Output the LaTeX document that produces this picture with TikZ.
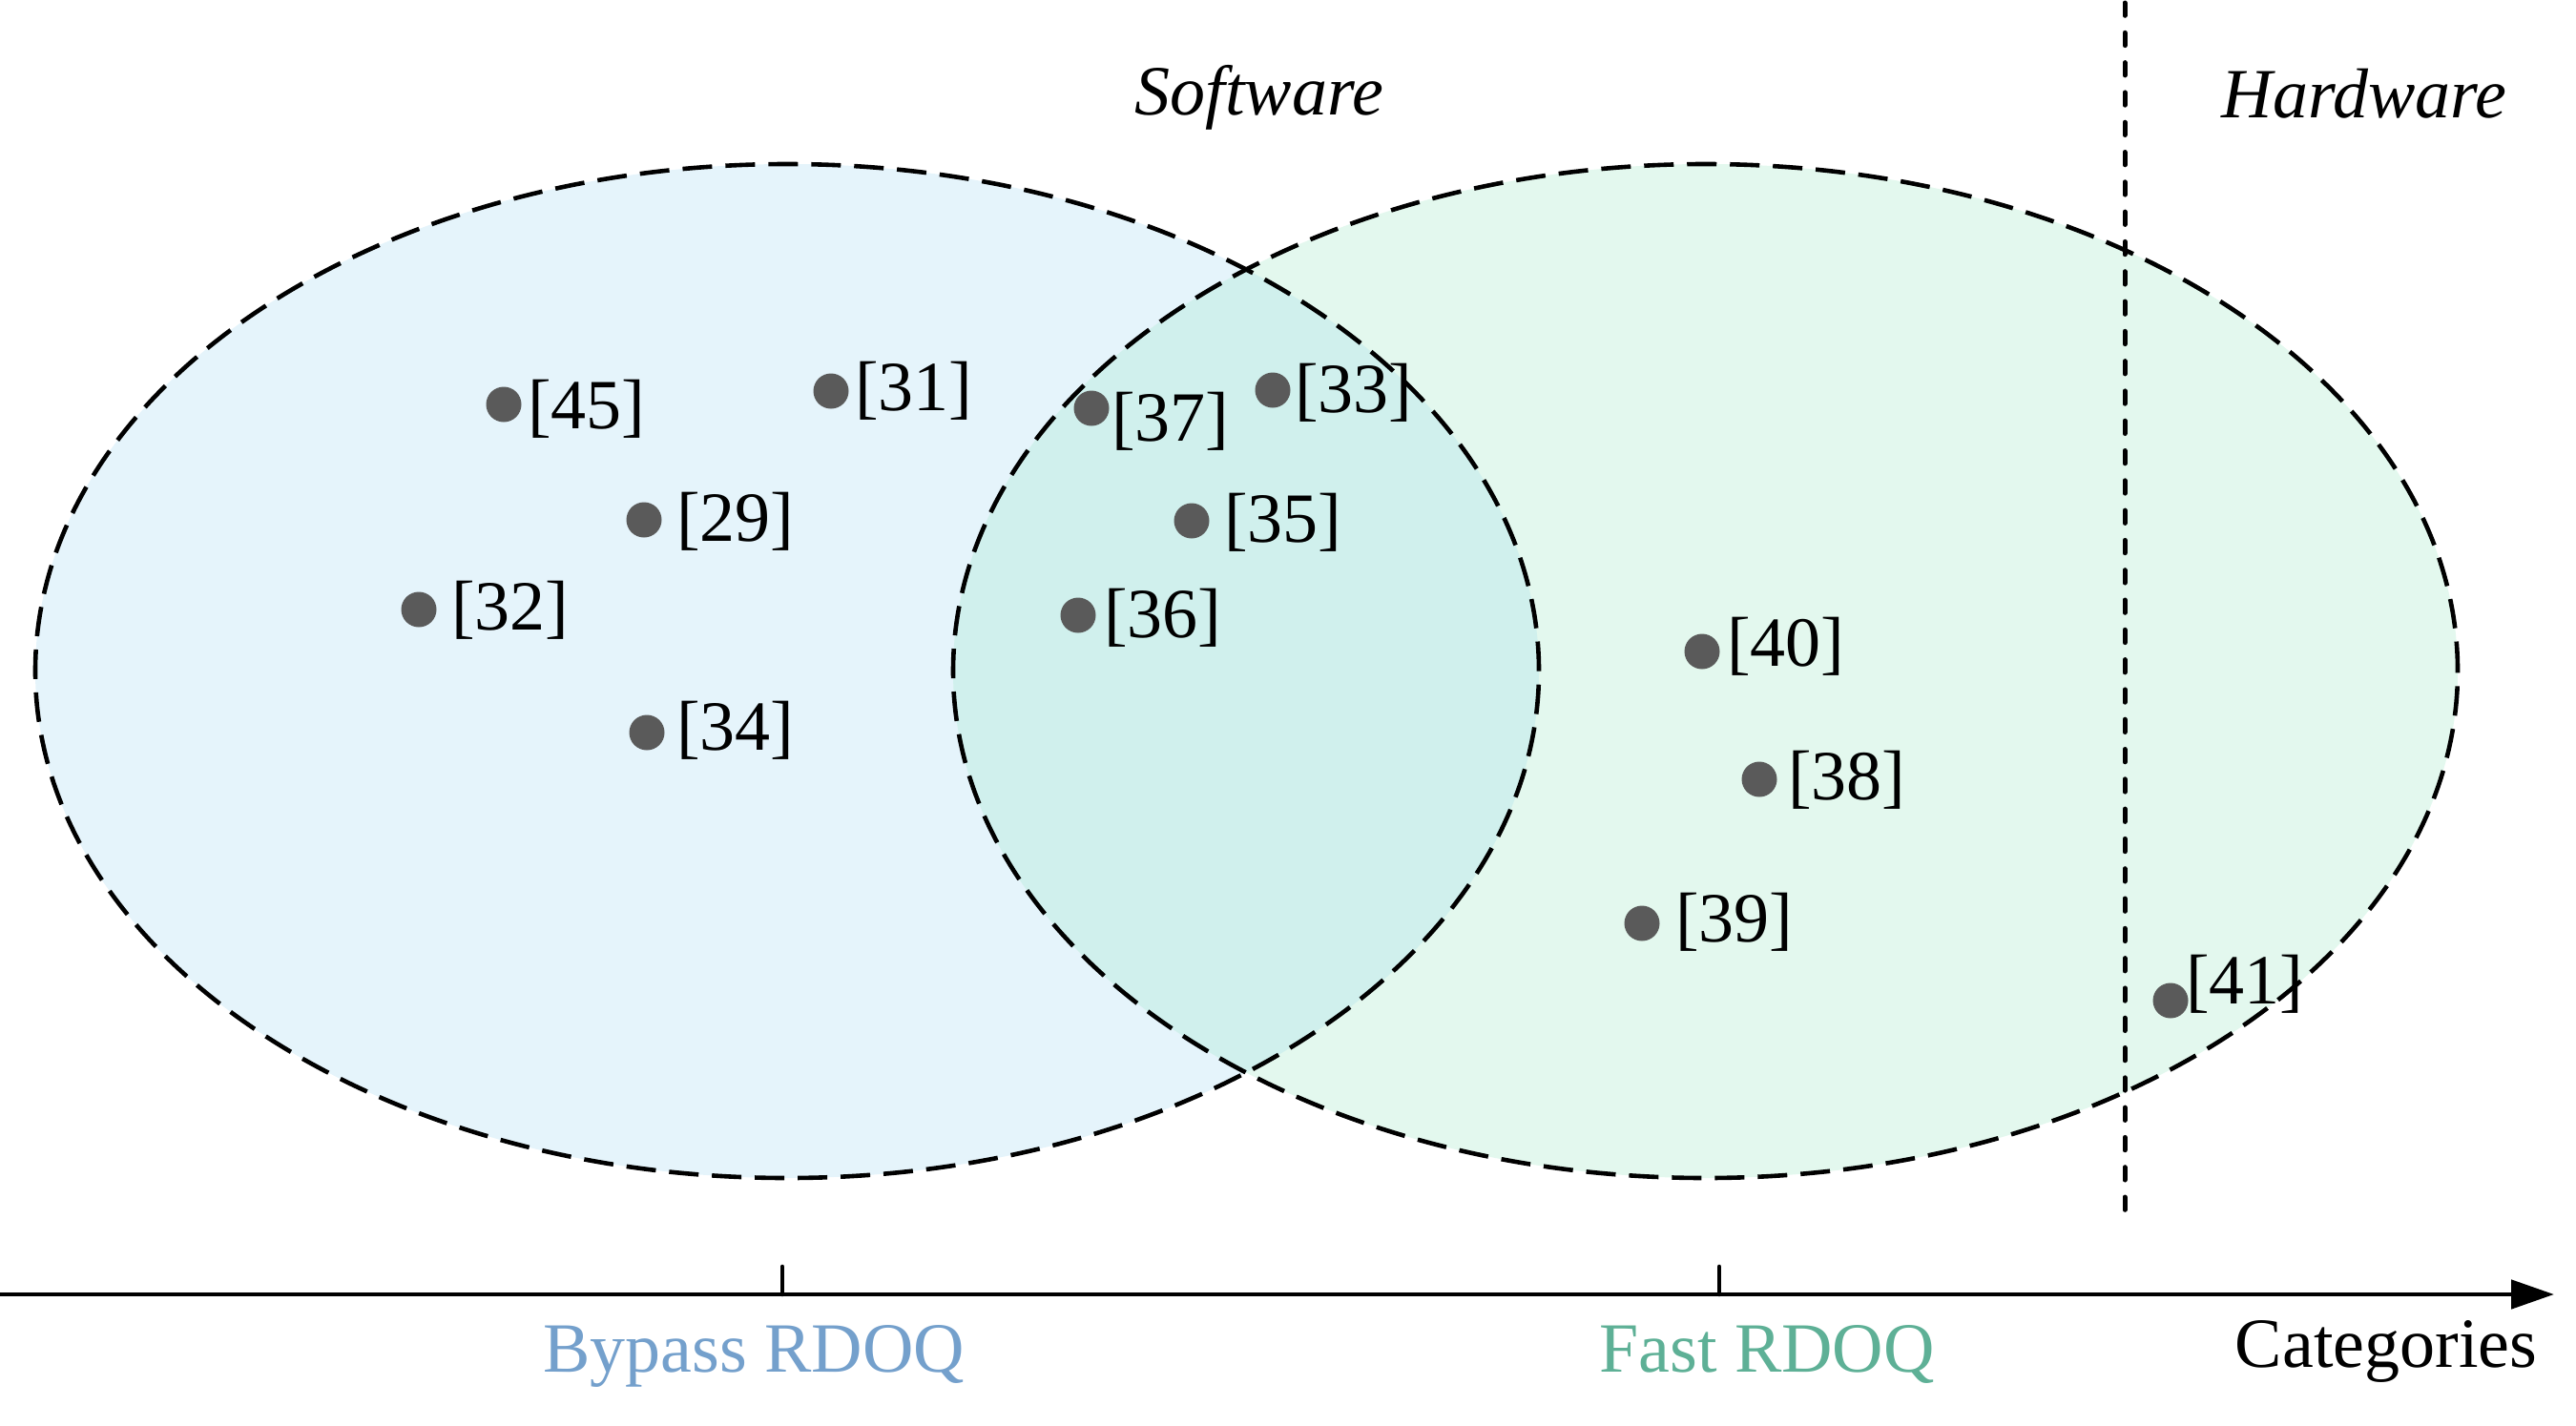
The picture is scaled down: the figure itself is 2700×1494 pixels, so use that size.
\documentclass[tikz,border=0pt]{standalone}
\usepackage{fontspec}
\setmainfont{Liberation Serif}
\usetikzlibrary{arrows.meta}
\definecolor{leftfill}{HTML}{E5F4FB}
\definecolor{rightfill}{HTML}{E3F8EE}
\definecolor{bothfill}{HTML}{D0F0ED}
\definecolor{dotgray}{HTML}{5A5A5A}
\definecolor{bypasscol}{HTML}{74A0CC}
\definecolor{fastcol}{HTML}{5EB096}
\begin{document}
\begin{tikzpicture}[x=1pt,y=-1pt,
  refdot/.style={circle,fill=dotgray,inner sep=0pt,minimum size=37pt},
  reflabel/.style={anchor=base west,inner sep=0pt,font=\fontsize{74}{88}\selectfont},
  bigtext/.style={anchor=base,inner sep=0pt,font=\fontsize{74}{88}\selectfont},
  setline/.style={draw=black,line width=4.6pt,dash pattern=on 31pt off 14pt},
  divline/.style={draw=black,line width=5pt,line cap=round,dash pattern=on 13.3pt off 18pt},
  axisline/.style={draw=black,line width=4.8pt},
  tickline/.style={draw=black,line width=4.6pt,line cap=round}]
\useasboundingbox (0,0) rectangle (2700,1494);
% ellipse fills
\fill[leftfill] (825,703.5) ellipse [x radius=788pt, y radius=531.5pt];
\fill[rightfill] (1787.5,703.5) ellipse [x radius=788.5pt, y radius=531.5pt];
\begin{scope}
  \clip (825,703.5) ellipse [x radius=788pt, y radius=531.5pt];
  \fill[bothfill] (1787.5,703.5) ellipse [x radius=788.5pt, y radius=531.5pt];
\end{scope}
% outlines
\draw[setline] (825,703.5) ellipse [x radius=788pt, y radius=531.5pt];
\draw[setline] (1787.5,703.5) ellipse [x radius=788.5pt, y radius=531.5pt];
% divider
\coordinate (v0) at (2227,3);
\coordinate (v1) at (2227,1270);
\draw[divline] (v0) -- (v1);
% dots and labels
\node[refdot] (d45) at (528,424) {};
\node[reflabel] (l45) at (553,449) {[45]};
\node[refdot] (d31) at (871,410) {};
\node[reflabel] (l31) at (896,430) {[31]};
\node[refdot] (d29) at (675,545) {};
\node[reflabel] (l29) at (709,567) {[29]};
\node[refdot] (d32) at (439,639) {};
\node[reflabel] (l32) at (473,660) {[32]};
\node[refdot] (d34) at (678,768) {};
\node[reflabel] (l34) at (709,786) {[34]};
\node[refdot] (d37) at (1144,428) {};
\node[reflabel] (l37) at (1165,462) {[37]};
\node[refdot] (d33) at (1334,409) {};
\node[reflabel] (l33) at (1357,432) {[33]};
\node[refdot] (d35) at (1249,546) {};
\node[reflabel] (l35) at (1283,568) {[35]};
\node[refdot] (d36) at (1130,645) {};
\node[reflabel] (l36) at (1157,668) {[36]};
\node[refdot] (d40) at (1784,683) {};
\node[reflabel] (l40) at (1810,698) {[40]};
\node[refdot] (d38) at (1844,817) {};
\node[reflabel] (l38) at (1874,838) {[38]};
\node[refdot] (d39) at (1721,968) {};
\node[reflabel] (l39) at (1756,987) {[39]};
\node[refdot] (d41) at (2275,1049) {};
\node[reflabel] (l41) at (2291,1052) {[41]};
% headings
\node[bigtext,font=\fontsize{74}{88}\selectfont\itshape] (sw) at (1320,120) {Software};
\node[bigtext,font=\fontsize{74}{88}\selectfont\itshape] (hw) at (2478,123) {Hardware};
% axis
\coordinate (a0) at (0,1357);
\coordinate (a1) at (2677,1357);
\draw[axisline,-{Triangle[length=45pt,width=30pt]}] (a0) -- (a1);
\coordinate (t1a) at (820,1357);
\coordinate (t1b) at (820,1328);
\coordinate (t2a) at (1802,1357);
\coordinate (t2b) at (1802,1328);
\draw[tickline] (t1a) -- (t1b);
\draw[tickline] (t2a) -- (t2b);
\node[bigtext,text=bypasscol] (bp) at (790,1438) {Bypass RDOQ};
\node[bigtext,text=fastcol] (fr) at (1852,1438) {Fast RDOQ};
\node[bigtext] (cat) at (2501,1433) {Categories};
\end{tikzpicture}
\end{document}
